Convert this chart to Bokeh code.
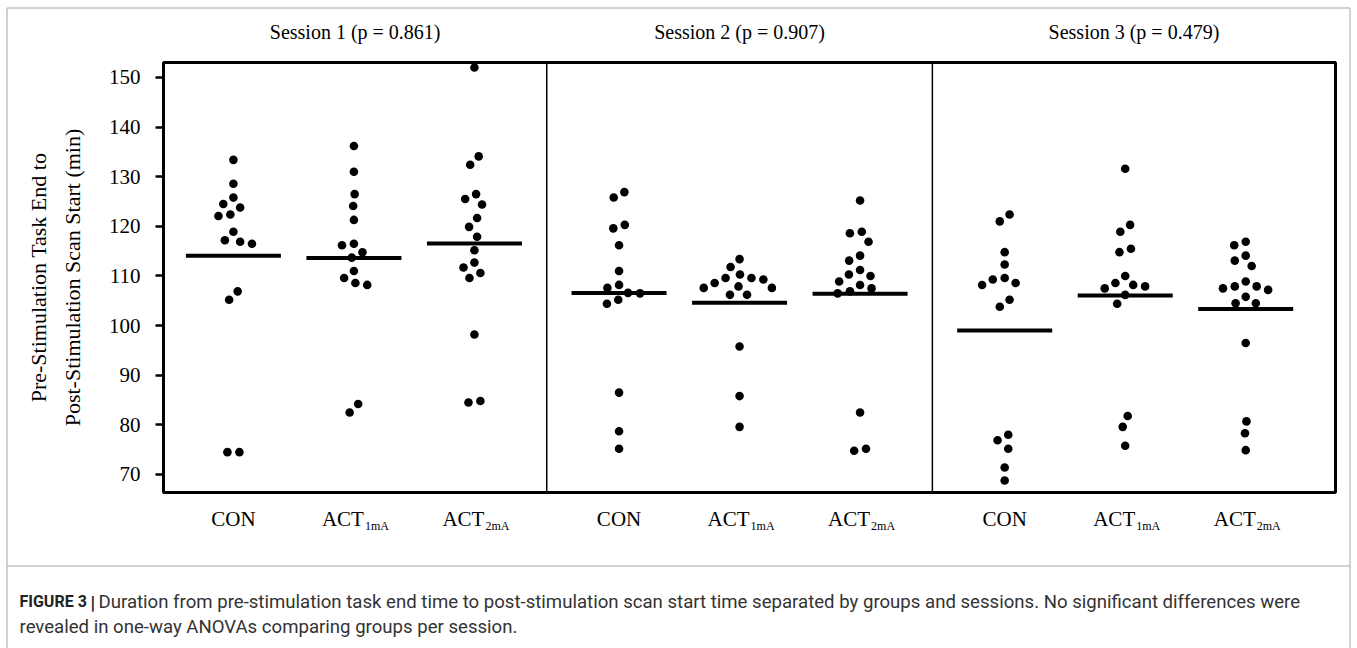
import math
from bokeh.plotting import figure
from bokeh.models import Range1d, FixedTicker, Label
from bokeh.embed import file_html
from bokeh.resources import INLINE

# ---------------- data ----------------
sessions = ["Session 1 (p = 0.861)", "Session 2 (p = 0.907)", "Session 3 (p = 0.479)"]
groups = ["CON", "ACT1mA", "ACT2mA"]

s1_con = [133.4, 128.6, 125.8, 124.5, 123.8, 122.4, 122.1, 118.9, 117.2, 116.9, 116.5, 106.9, 105.2, 74.5, 74.5]
s1_act1 = [136.2, 131.0, 126.5, 124.1, 121.3, 116.5, 116.2, 114.8, 113.7, 111.0, 109.6, 108.6, 108.2, 84.2, 82.5]
s1_act2 = [152.0, 134.1, 132.4, 126.5, 125.5, 124.4, 121.7, 119.9, 117.9, 115.2, 112.7, 111.7, 110.6, 109.6, 98.2, 84.8, 84.5]

s2_con = [126.9, 125.8, 120.3, 119.6, 116.2, 111.0, 108.2, 107.6, 106.6, 106.5, 105.2, 104.4, 86.5, 78.7, 75.2]
s2_act1 = [113.4, 111.8, 110.3, 109.6, 109.6, 109.3, 108.6, 107.9, 107.6, 107.6, 106.2, 106.2, 95.8, 85.8, 79.6]
s2_act2 = [125.2, 118.9, 118.6, 116.9, 114.1, 113.1, 111.2, 110.3, 110.0, 108.9, 108.2, 107.5, 106.9, 106.5, 82.5, 75.2, 74.8]

s3_con = [122.4, 121.0, 114.8, 112.3, 109.6, 109.3, 108.6, 108.2, 105.2, 103.8, 78.0, 76.9, 75.2, 71.4, 68.8]
s3_act1 = [131.6, 120.3, 118.9, 115.5, 114.8, 110.0, 108.6, 108.2, 107.9, 107.5, 106.2, 104.4, 81.8, 79.6, 75.8]
s3_act2 = [116.9, 116.2, 114.1, 113.1, 112.0, 108.9, 107.9, 107.2, 107.5, 107.9, 105.8, 104.5, 104.5, 96.5, 80.7, 78.3, 74.9]

y_ticks = [70, 80, 90, 100, 110, 120, 130, 140, 150]
y_label_lines = ["Pre-Stimulation Task End to", "Post-Stimulation Scan Start (min)"]
caption_bold = "FIGURE 3"
caption_pipe = "|"
caption_line1 = ("Duration from pre-stimulation task end time to post-stimulation scan start time "
                 "separated by groups and sessions. No significant differences were")
caption_line2 = "revealed in one-way ANOVAs comparing groups per session."

all_data = [[s1_con, s1_act1, s1_act2], [s2_con, s2_act1, s2_act2], [s3_con, s3_act1, s3_act2]]

# ---------------- layout constants (pixels on the page) ----------------
W, H = 1357, 648
PANEL_L, PANEL_R, PANEL_T, PANEL_B = 163, 1335, 62, 492
GAP = 1.2                        # extra category units between sessions
X0, X1 = -0.58, 2 * (2 + GAP) + 2 + 0.745
Y0, Y1 = 66.37, 153.02
FONT = "Liberation Serif"
CAP_FONT = "Roboto"

ppx = (PANEL_R - PANEL_L) / (X1 - X0)
ppy = (PANEL_B - PANEL_T) / (Y1 - Y0)
XS = X0 - PANEL_L / ppx
XE = X1 + (W - PANEL_R) / ppx
YS = Y0 - (H - PANEL_B) / ppy
YE = Y1 + PANEL_T / ppy


def dx(px):
    return XS + px / ppx


def dy(py):
    return YE - py / ppy


p = figure(width=W, height=H, output_backend="svg", toolbar_location=None,
           x_range=Range1d(XS, XE), y_range=Range1d(YS, YE),
           min_border=0, min_border_left=0, min_border_right=0,
           min_border_top=0, min_border_bottom=0)
p.xaxis.visible = False
p.xgrid.visible = False
p.ygrid.visible = False
p.outline_line_color = None
p.background_fill_color = "white"
p.border_fill_color = "white"

ax = p.yaxis[0]
ax.fixed_location = X0
ax.ticker = FixedTicker(ticks=y_ticks)
ax.axis_line_color = None
ax.major_tick_out = 8
ax.major_tick_in = 0
ax.major_tick_line_width = 2.5
ax.minor_tick_line_color = None
ax.major_label_text_font = FONT
ax.major_label_text_font_size = "21px"
ax.major_label_text_color = "black"
ax.major_label_standoff = 15

# outer figure frame and caption separator (light grey)
grey = "#a6a6a6"
p.segment(x0=[dx(6.5), dx(1349.5), dx(6.5), dx(6.5)],
          y0=[dy(7.5), dy(7.5), dy(7.5), dy(565.5)],
          x1=[dx(6.5), dx(1349.5), dx(1349.5), dx(1349.5)],
          y1=[dy(H), dy(H), dy(7.5), dy(565.5)],
          line_color=grey, line_width=1)

# panel box + session separators
p.quad(left=[X0], right=[X1], bottom=[Y0], top=[Y1], fill_color=None,
       line_color="black", line_width=3)
seps = [k * (2 + GAP) - GAP / 2 for k in (1, 2)]
p.segment(x0=seps, y0=[Y0] * 2, x1=seps, y1=[Y1] * 2, line_color="black", line_width=1.5)


def swarm(vals, d):
    ys = [v * ppy for v in vals]
    n = len(vals)
    order = sorted(range(n), key=lambda i: -vals[i])
    placed = []
    xs = [0.0] * n
    for i in order:
        y = ys[i]
        cands = [0.0]
        for (px, py) in placed:
            ddy = abs(py - y)
            if ddy < d:
                ddx = math.sqrt(d * d - ddy * ddy)
                cands += [px - ddx, px + ddx]
        ok = [c for c in cands
              if all((c - px) ** 2 + (y - py) ** 2 >= d * d - 1e-6 for px, py in placed)]
        best = min(ok, key=lambda c: (abs(c), c))
        xs[i] = best
        placed.append((best, y))
    # centre small isolated clusters (points linked by vertical distance < d)
    srt = sorted(range(n), key=lambda i: ys[i])
    comps, cur = [], [srt[0]]
    for a, b in zip(srt, srt[1:]):
        if ys[b] - ys[a] < d:
            cur.append(b)
        else:
            comps.append(cur)
            cur = [b]
    comps.append(cur)
    for comp in comps:
        if 1 < len(comp) <= 3:
            m = sum(xs[i] for i in comp) / len(comp)
            for i in comp:
                xs[i] -= m
    return [x / ppx for x in xs]


for si, sess in enumerate(all_data):
    for gi, vals in enumerate(sess):
        pos = si * (2 + GAP) + gi
        offs = swarm(vals, 12.0)
        p.scatter([pos + o for o in offs], vals, size=8.6, color="black", line_color=None)
        mean = sum(vals) / len(vals)
        hw = 47.5 / ppx
        p.segment(x0=[pos - hw], y0=[mean], x1=[pos + hw], y1=[mean],
                  line_width=4, line_color="black", line_cap="butt")

# session titles
bounds = [X0] + seps + [X1]
for si, title in enumerate(sessions):
    p.add_layout(Label(x=(bounds[si] + bounds[si + 1]) / 2, y=dy(31), text=title, text_font=FONT,
                       text_font_size="20px", text_align="center", text_baseline="middle",
                       text_color="black"))

# group labels (ACT with subscript)
for si in range(3):
    for gi, g in enumerate(groups):
        pos = si * (2 + GAP) + gi
        if g == "CON":
            p.add_layout(Label(x=pos, y=dy(518), text="CON", text_font=FONT, text_font_size="21px",
                               text_align="center", text_baseline="alphabetic", text_color="black"))
        else:
            p.add_layout(Label(x=pos + 10 / ppx, y=dy(518), text=g[:3], text_font=FONT,
                               text_font_size="21px", text_align="right",
                               text_baseline="alphabetic", text_color="black"))
            p.add_layout(Label(x=pos + 11 / ppx, y=dy(525), text=g[3:], text_font=FONT,
                               text_font_size="12px", text_align="left",
                               text_baseline="alphabetic", text_color="black"))

# y axis title (two lines)
for li, txt in enumerate(y_label_lines):
    p.add_layout(Label(x=dx(38 + li * 34), y=(Y0 + Y1) / 2, text=txt, text_font=FONT,
                       text_font_size="22px", text_align="center", text_baseline="middle",
                       angle=math.pi / 2, text_color="black"))

# caption
p.add_layout(Label(x=dx(19), y=dy(601), text=caption_bold, text_font=CAP_FONT,
                   text_font_style="bold", text_font_size="16px", text_color="#222222",
                   text_baseline="alphabetic"))
p.add_layout(Label(x=dx(90), y=dy(602), text=caption_pipe, text_font=CAP_FONT,
                   text_font_style="bold", text_font_size="18.6px", text_color="#222222",
                   text_baseline="alphabetic"))
p.add_layout(Label(x=dx(98), y=dy(601), text=caption_line1, text_font=CAP_FONT,
                   text_font_size="18.6px", text_color="#333333", text_baseline="alphabetic"))
p.add_layout(Label(x=dx(19), y=dy(626), text=caption_line2, text_font=CAP_FONT,
                   text_font_size="18.6px", text_color="#333333", text_baseline="alphabetic"))

open("out.html", "w").write(file_html(p, INLINE))
